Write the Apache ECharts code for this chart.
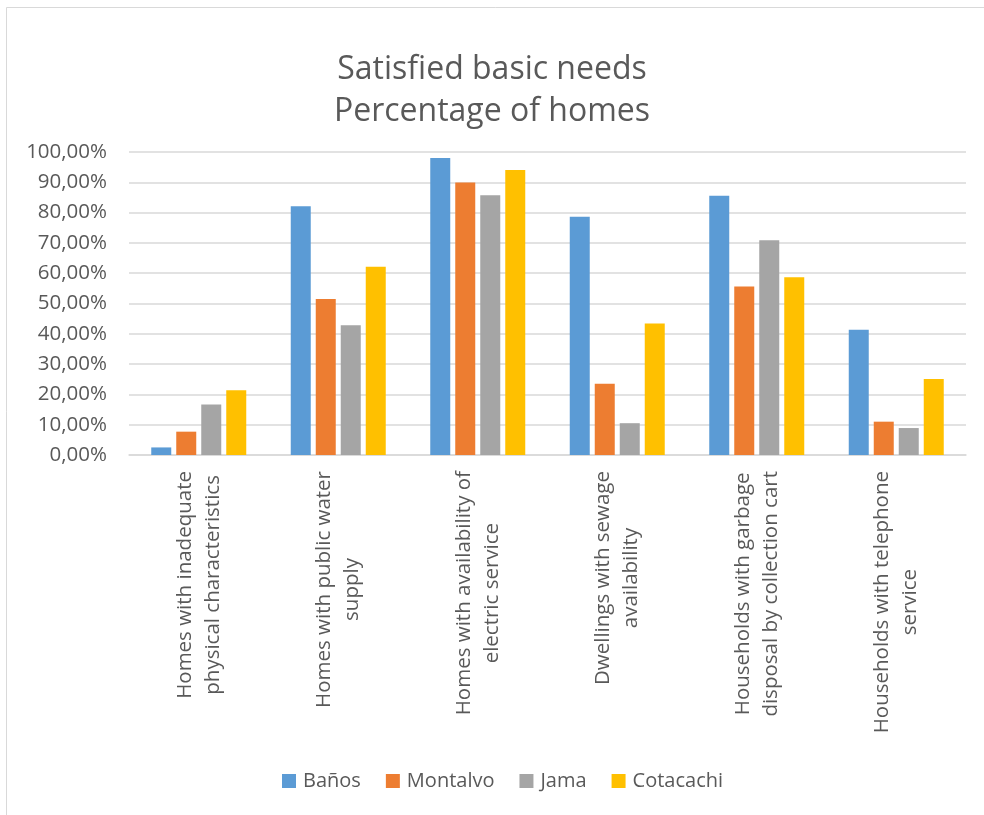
<!DOCTYPE html>
<html>
<head>
<meta charset="utf-8">
<script src="https://cdn.jsdelivr.net/npm/echarts@6/dist/echarts.min.js"></script>
<style>html,body{margin:0;padding:0;background:#fff;}#c{width:984px;height:815px;}</style>
</head>
<body>
<div id="c"></div>
<script>
var categories = [
  'Homes with inadequate\nphysical characteristics',
  'Homes with public water\nsupply',
  'Homes with availability of\nelectric service',
  'Dwellings with sewage\navailability',
  'Households with garbage\ndisposal by collection cart',
  'Households with telephone\nservice'
];
var seriesNames = ['Baños', 'Montalvo', 'Jama', 'Cotacachi'];
var banos     = [2.5, 82.1, 98.0, 78.6, 85.6, 41.3];
var montalvo  = [7.7, 51.5, 89.9, 23.5, 55.6, 11.0];
var jama      = [16.7, 42.8, 85.7, 10.5, 70.9, 8.9];
var cotacachi = [21.4, 62.1, 94.1, 43.4, 58.7, 25.1];
var colors = ['#5B9BD5', '#ED7D31', '#A5A5A5', '#FFC000'];
var yTicks = { min: 0, max: 100, interval: 10 };

var chart = echarts.init(document.getElementById('c'), null, { renderer: 'canvas' });
var font = '"Open Sans", "Noto Sans", sans-serif';
var dataSets = [banos, montalvo, jama, cotacachi];
var option = {
  animation: false,
  backgroundColor: '#fff',
  textStyle: { fontFamily: font },
  graphic: [{
    type: 'rect', shape: { x: 6.5, y: 7.5, width: 1000, height: 820 },
    style: { fill: 'none', stroke: '#d9d9d9', lineWidth: 1 }, silent: true, z: -1
  }],
  title: {
    text: 'Satisfied basic needs\nPercentage of homes',
    left: 'center', top: 44,
    textStyle: { fontFamily: font, fontSize: 32, fontWeight: 'normal', color: '#595959', lineHeight: 42 }
  },
  legend: {
    data: seriesNames,
    left: 282, top: 771, padding: 0,
    itemWidth: 14, itemHeight: 14, itemGap: 25,
    icon: 'rect',
    textStyle: { fontFamily: font, fontSize: 20, color: '#595959', padding: [0, 0, 0, 2] }
  },
  grid: { left: 129, right: 18, top: 152, bottom: 360, containLabel: false },
  xAxis: {
    type: 'category',
    data: categories,
    axisLine: { show: true, lineStyle: { color: '#d9d9d9', width: 1.5 } },
    axisTick: { show: false },
    axisLabel: {
      rotate: 90, margin: 16, interval: 0,
      formatter: function (v) {
        return v.split('\n').map(function (s) { return '{c|' + s + '}'; }).join('\n');
      },
      rich: { c: { align: 'center', fontFamily: font, fontSize: 20.5, color: '#595959', lineHeight: 28 } }
    }
  },
  yAxis: {
    type: 'value', min: yTicks.min, max: yTicks.max, interval: yTicks.interval,
    axisLine: { show: false }, axisTick: { show: false },
    splitLine: { lineStyle: { color: '#d9d9d9', width: 1.5 } },
    axisLabel: {
      margin: 22, fontFamily: font, fontSize: 20.5, color: '#595959',
      formatter: function (v) { return v.toFixed(2).replace('.', ',') + '%'; }
    }
  },
  series: seriesNames.map(function (n, i) {
    return {
      name: n, type: 'bar', data: dataSets[i],
      barWidth: 20, barGap: '25%',
      itemStyle: { color: colors[i] }
    };
  })
};
chart.setOption(option);
</script>
</body>
</html>
